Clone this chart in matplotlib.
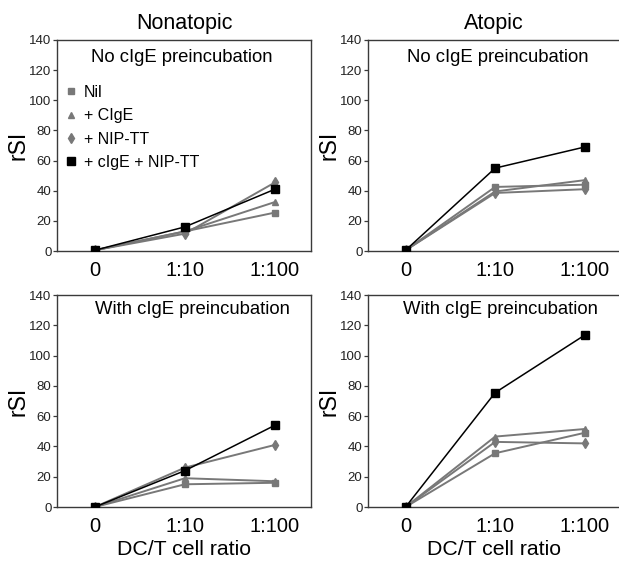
import numpy as np
import matplotlib
matplotlib.use("Agg")
import matplotlib.pyplot as plt
from matplotlib.lines import Line2D

plt.rcParams['font.family'] = ['Liberation Sans', 'DejaVu Sans']

# =========================
# Data
# =========================
ratios = ["0", "1:10", "1:100"]
series_names = ["Nil", "+ CIgE", "+ NIP-TT", "+ cIgE + NIP-TT"]

nonatopic_no = {
    "Nil": [0.5, 13, 25.5],
    "+ CIgE": [0.5, 13, 32.5],
    "+ NIP-TT": [0.5, 11.5, 45.5],
    "+ cIgE + NIP-TT": [0.5, 16, 41],
}
atopic_no = {
    "Nil": [0.5, 42.5, 44],
    "+ CIgE": [0.5, 39.5, 47],
    "+ NIP-TT": [0.5, 38.5, 41],
    "+ cIgE + NIP-TT": [0.5, 55, 69],
}
nonatopic_with = {
    "Nil": [0, 15, 16],
    "+ CIgE": [0, 19, 17],
    "+ NIP-TT": [0, 26, 41],
    "+ cIgE + NIP-TT": [0, 24, 54],
}
atopic_with = {
    "Nil": [0, 35.5, 49],
    "+ CIgE": [0, 46.5, 51.5],
    "+ NIP-TT": [0, 43, 42],
    "+ cIgE + NIP-TT": [0, 75.5, 113.5],
}

styles = {
    "Nil": dict(marker="s", color="#787878", ms=4.5, lw=1.4),
    "+ CIgE": dict(marker="^", color="#787878", ms=5, lw=1.4),
    "+ NIP-TT": dict(marker="d", color="#787878", ms=5, lw=1.4),
    "+ cIgE + NIP-TT": dict(marker="s", color="black", ms=6, lw=1.1),
}

spine_col = "#3a3a3a"

fig = plt.figure(figsize=(6.19, 5.63), dpi=100)

W = 619.0
H = 563.0
def add_ax(left, top, right, bottom):
    return fig.add_axes([left / W, (H - bottom) / H, (right - left) / W, (bottom - top) / H])

axes = [
    (add_ax(57, 40, 311, 251), nonatopic_no, "No cIgE preincubation", 0.49),
    (add_ax(368, 40, 620.5, 251), atopic_no, "No cIgE preincubation", 0.515),
    (add_ax(57, 295, 311, 507), nonatopic_with, "With cIgE preincubation", 0.535),
    (add_ax(368, 295, 620.5, 507), atopic_with, "With cIgE preincubation", 0.525),
]

x = np.arange(len(ratios))
for i, (ax, data, subtitle, sx) in enumerate(axes):
    for name in series_names:
        st = styles[name]
        ax.plot(x, data[name], marker=st["marker"], color=st["color"], markersize=st["ms"],
                linewidth=st["lw"], markeredgecolor=st["color"], zorder=3 if name.startswith("+ cIgE") else 2)
    ax.set_xlim(-0.42, 2.4)
    ax.set_ylim(0, 140)
    ax.set_yticks(np.arange(0, 141, 20))
    ax.set_xticks(x)
    ax.set_xticklabels(ratios, fontsize=14.5)
    ax.tick_params(axis="x", length=0, pad=7)
    ax.tick_params(axis="y", labelsize=9.5, length=3, width=0.9, pad=1, colors=spine_col, labelcolor="#222222")
    for sp in ax.spines.values():
        sp.set_color(spine_col)
        sp.set_linewidth(1.0)
    ax.set_ylabel("rSI", fontsize=16.5, labelpad=0)
    ax.text(sx, 0.915 if i < 2 else 0.93, subtitle, transform=ax.transAxes,
            ha="center", va="center", fontsize=13.3)
    if i >= 2:
        ax.set_xlabel("DC/T cell ratio", fontsize=15.3, labelpad=3)

axes[0][0].set_title("Nonatopic", fontsize=15.5, pad=8)
axes[1][0].set_title("Atopic", fontsize=15.5, pad=8)

handles = [Line2D([], [], linestyle="none", marker=styles[n]["marker"], color=styles[n]["color"],
                  markersize=styles[n]["ms"]) for n in series_names]
axes[0][0].legend(handles, series_names, loc="upper left", bbox_to_anchor=(-0.025, 0.855),
                  frameon=False, fontsize=11.5, handlelength=0.8, handletextpad=0.4,
                  labelspacing=0.52, borderaxespad=0.5)

fig.savefig("out.png", dpi=100)
